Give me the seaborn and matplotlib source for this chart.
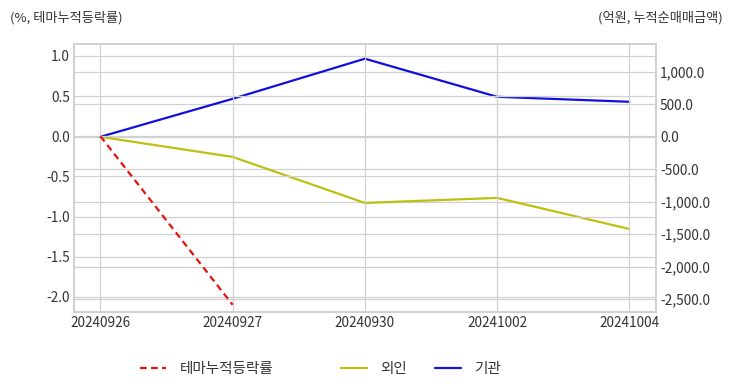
import numpy as np
import pandas as pd
import matplotlib
matplotlib.use("Agg")
import matplotlib.pyplot as plt
import seaborn as sns

# ── data ──
dates = ["20240926", "20240927", "20240930", "20241002", "20241004"]
theme_ret = [0.0, -2.1]                              # 테마누적등락률 (%)
foreign = [0.0, -309.0, -1019.0, -941.0, -1420.0]    # 외인 (억원)
inst = [0.0, 586.0, 1204.0, 617.0, 540.0]            # 기관 (억원)

left_ticks = [-2.0, -1.5, -1.0, -0.5, 0.0, 0.5, 1.0]
right_ticks = [-2500, -2000, -1500, -1000, -500, 0, 500, 1000]

sns.set_style("whitegrid")
plt.rcParams["font.family"] = ["Noto Sans CJK KR", "DejaVu Sans"]
plt.rcParams["axes.unicode_minus"] = False

TXT = "#333333"
GRID = "#d0d0d0"

fig = plt.figure(figsize=(7.32, 3.92), dpi=100)
ax = fig.add_axes([0.101, 0.204, 0.795, 0.684])
ax2 = ax.twinx()

x = np.arange(len(dates))
df_theme = pd.DataFrame({"x": x[:len(theme_ret)], "y": theme_ret})
df_for = pd.DataFrame({"x": x, "y": foreign})
df_inst = pd.DataFrame({"x": x, "y": inst})

sns.lineplot(data=df_theme, x="x", y="y", ax=ax, color="#e8120c", linestyle=(0, (3, 2)),
             linewidth=1.6, label="테마누적등락률", legend=False, zorder=5)
sns.lineplot(data=df_for, x="x", y="y", ax=ax2, color="#bfbf10", linewidth=1.6,
             label="외인", legend=False)
sns.lineplot(data=df_inst, x="x", y="y", ax=ax2, color="#1010e0", linewidth=1.6,
             label="기관", legend=False)

ax.set_xlim(-0.2, 4.2)
ax.set_ylim(-2.19, 1.15)
ax2.set_ylim(-2700, 1432)
ax.set_xticks(x)
ax.set_xticklabels(dates)
ax.set_yticks(left_ticks)
ax.set_yticklabels([f"{v:.1f}" for v in left_ticks])
ax2.set_yticks(right_ticks)
ax2.set_yticklabels([f"{v:,.1f}" for v in right_ticks])

for a in (ax, ax2):
    a.set_xlabel("")
    a.set_ylabel("")
    a.tick_params(axis="both", labelsize=9.8, colors=TXT, length=0, pad=3)
    a.grid(True, color=GRID, linewidth=0.9)
    for s in a.spines.values():
        s.set_color(GRID)
        s.set_linewidth(1.2)
ax2.grid(True, axis="y", color=GRID, linewidth=0.9)
ax2.set_zorder(ax.get_zorder() - 1)
ax.patch.set_visible(False)

fig.text(0.013, 0.955, "(%, 테마누적등락률)", fontsize=9.5, color=TXT, ha="left", va="center")
fig.text(0.987, 0.955, "(억원, 누적순매매금액)", fontsize=9.5, color=TXT, ha="right", va="center")

# legend items placed one by one (reference spacing is uneven)
handles = ax.get_lines()[:1] + ax2.get_lines()[:2]
labels = ["테마누적등락률", "외인", "기관"]
lefts = [140, 341, 435]
for h, lab, px in zip(handles, labels, lefts):
    fig.legend([h], [lab], loc="center left", bbox_to_anchor=(px / 732, 1 - 369 / 392),
               frameon=False, fontsize=10.5, labelcolor=TXT, handlelength=1.8,
               handletextpad=0.9, borderpad=0, borderaxespad=0)

fig.savefig("out.png", dpi=100)
